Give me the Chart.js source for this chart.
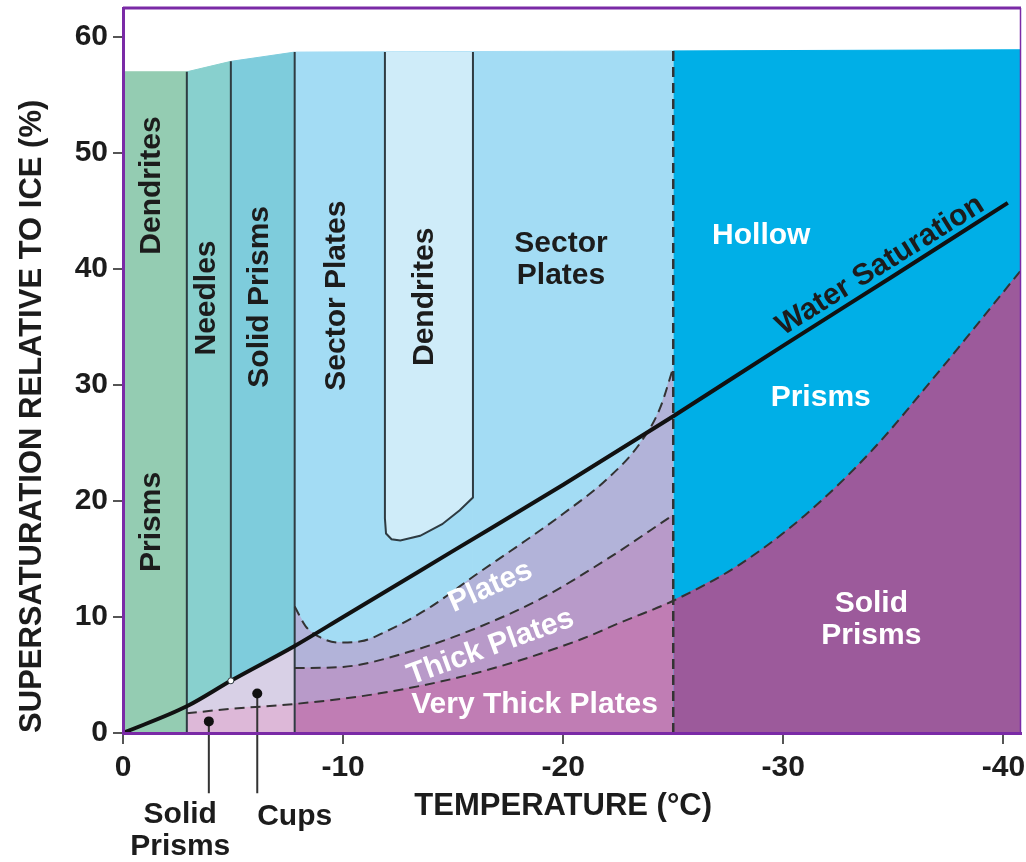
<!DOCTYPE html>
<html>
<head>
<meta charset="utf-8">
<title>Ice crystal habit diagram</title>
<script src="https://cdn.jsdelivr.net/npm/chart.js@4.4.1/dist/chart.umd.min.js"></script>
<style>
  html, body { margin: 0; padding: 0; background: #fff; }
  #wrap { width: 1026px; height: 862px; position: relative; }
</style>
</head>
<body>
<div id="wrap"><canvas id="habit"></canvas></div>
<script>
// ticks
const tempTicks = [0, -10, -20, -30, -40];
const ssTicks = [0, 10, 20, 30, 40, 50, 60];

// upper edge of the coloured diagram
const topT = [0, -2.9, -4.9, -7.8, -25, -40.8];
const topS = [57.0, 57.0, 57.9, 58.7, 58.8, 58.9];

// water saturation
const waterT = [0, -2.9, -4.9, -7.8, -10, -15, -20, -25, -30, -35, -40.2];
const waterS = [0, 2.3, 4.5, 7.5, 10.0, 15.7, 21.4, 27.3, 33.4, 39.4, 45.7];

// sector plates / plates boundary
const sectorT = [-7.8, -8.3, -8.9, -9.8, -10.8, -12, -14, -16, -18, -20, -22, -23.5, -24.4, -25];
const sectorS = [10.9, 9.2, 8.3, 7.8, 7.9, 8.8, 10.9, 13.6, 16.2, 18.9, 21.9, 25.0, 28.0, 31.5];

// plates / thick plates boundary
const thickT = [-7.8, -10, -13, -16, -19, -22, -25];
const thickS = [5.6, 5.7, 7.0, 9.0, 11.6, 15.0, 18.8];

// thick / very thick plates, then prisms / solid prisms
const vthickT = [-2.9, -5, -7.8, -11.6, -16.1, -20.7, -22.7, -25, -28, -31, -34, -37, -40.8];
const vthickS = [1.7, 2.1, 2.5, 3.4, 5.2, 8.0, 9.6, 11.4, 14.5, 18.8, 24.3, 31.0, 39.9];

// inner dendrite pocket outline
const dendT = [-11.9, -11.9, -11.95, -12.2, -12.6, -13.5, -14.5, -15.3, -15.9, -15.9];
const dendS = [58.7, 18.5, 17.2, 16.7, 16.6, 17.0, 18.0, 19.2, 20.3, 58.7];

// solid column walls
const wallT = [-2.9, -4.9, -7.8];
const wallLow = [0, 4.5, 0];
const wallHigh = [57.0, 57.9, 58.7];
const dashWallT = -25;

// pointers under the axis
const pointerT = [-3.9, -6.1];
const pointerS = [1.0, 3.4];
const pointerFoot = -5.2;

const ink = '#1c1c1c';
const white = '#ffffff';
const purple = '#7a2aa6';
const lineCol = '#2e3b42';
const dashCol = '#333333';
const fontFamily = "'Liberation Sans', Arial, Helvetica, sans-serif";

const textLabels = [
  { lines: ['Dendrites'], t: -1.3, s: 47.2, angle: -90, color: ink },
  { lines: ['Prisms'], t: -1.3, s: 18.2, angle: -90, color: ink },
  { lines: ['Needles'], t: -3.8, s: 37.5, angle: -90, color: ink },
  { lines: ['Solid Prisms'], t: -6.2, s: 37.6, angle: -90, color: ink },
  { lines: ['Sector Plates'], t: -9.7, s: 37.7, angle: -90, color: ink },
  { lines: ['Dendrites'], t: -13.7, s: 37.6, angle: -90, color: ink },
  { lines: ['Sector', 'Plates'], t: -19.9, s: 40.8, angle: 0, color: ink },
  { lines: ['Hollow'], t: -29.0, s: 42.9, angle: 0, color: white },
  { lines: ['Prisms'], t: -31.7, s: 28.9, angle: 0, color: white },
  { lines: ['Solid', 'Prisms'], t: -34.0, s: 9.8, angle: 0, color: white },
  { lines: ['Plates'], t: -16.7, s: 12.6, angle: -24, color: white },
  { lines: ['Thick Plates'], t: -16.7, s: 7.4, angle: -20, color: white },
  { lines: ['Very Thick Plates'], t: -18.7, s: 2.4, angle: 0, color: white },
  { lines: ['Water Saturation'], t: -34.4, s: 40.3, angle: -32, color: ink },
  { lines: ['Solid', 'Prisms'], t: -2.6, s: -8.45, angle: 0, color: ink },
  { lines: ['Cups'], t: -7.8, s: -7.2, angle: 0, color: ink }
];

// points of a boundary between two temperatures (from >= t >= to)
function seg(T, S, from, to) {
  const out = [];
  T.forEach((t, i) => { if (t <= from && t >= to) out.push({ x: t, y: S[i] }); });
  return out;
}
function pairs(T, S) {
  return T.map((t, i) => ({ x: t, y: S[i] }));
}

const layers = [];
function area(points, color) {
  layers.push({
    data: points, fill: 'start', backgroundColor: color, borderColor: color,
    borderWidth: 1, pointRadius: 0, cubicInterpolationMode: 'monotone'
  });
}
function stroke(points, color, width, dash, smooth) {
  layers.push({
    data: points, fill: false, borderColor: color, borderWidth: width,
    borderDash: dash || [], pointRadius: 0,
    cubicInterpolationMode: smooth ? 'monotone' : 'default', tension: 0
  });
}

// fills, back to front
area(seg(topT, topS, 0, -2.9), '#94ccb2');
area(seg(topT, topS, -2.9, -4.9), '#88d0ce');
area(seg(topT, topS, -4.9, -7.8), '#7eccdc');
area(seg(topT, topS, -7.8, -25), '#a3dcf4');
area(seg(topT, topS, -25, -40.8), '#00afe7');
area([pairs(dendT, dendS)[0], pairs(dendT, dendS)[dendT.length - 1]], '#cfecf9');
area(pairs(dendT, dendS).slice(1, -1), '#a3dcf4');
area(seg(waterT, waterS, -2.9, -7.8), '#d8d0e6');
area(pairs(sectorT, sectorS), '#b2b3d9');
area(pairs(thickT, thickS), '#b89ac9');
area(seg(vthickT, vthickS, -2.9, -7.8), '#ddb8d8');
area(seg(vthickT, vthickS, -7.8, -25), '#c07db4');
area(seg(vthickT, vthickS, -25, -40.8), '#9c5a9b');

// outlines
wallT.forEach((t, i) => stroke([{ x: t, y: wallHigh[i] }, { x: t, y: wallLow[i] }], lineCol, 2));
stroke(pairs(dendT, dendS), lineCol, 2);
stroke(pairs(sectorT, sectorS), dashCol, 2, [10, 6], true);
stroke(pairs(thickT, thickS), dashCol, 2, [10, 6], true);
stroke(pairs(vthickT, vthickS), dashCol, 2, [10, 6], true);
stroke([{ x: dashWallT, y: topS[4] }, { x: dashWallT, y: 0 }], dashCol, 2.5, [10, 6]);
stroke(pairs(waterT, waterS), '#111111', 4, null, true);

// pointers
pointerT.forEach((t, i) => {
  layers.push({
    data: [{ x: t, y: pointerS[i] }, { x: t, y: pointerFoot }], fill: false,
    borderColor: '#333', borderWidth: 2, clip: false,
    pointRadius: ctx => ctx.dataIndex === 0 ? 5 : 0,
    pointBackgroundColor: '#111', pointBorderWidth: 0
  });
});
layers.push({
  data: [{ x: wallT[1], y: wallLow[1] }], showLine: false,
  pointRadius: 3, pointBackgroundColor: '#fff', pointBorderColor: lineCol, pointBorderWidth: 1
});

// first dataset is drawn on top in Chart.js, so give back layers a higher order
layers.forEach((d, i) => { d.order = layers.length - i; });

const frameAndText = {
  id: 'frameAndText',
  afterDatasetsDraw(chart) {
    const { ctx, chartArea: a, scales: { x, y } } = chart;
    ctx.save();
    ctx.strokeStyle = purple;
    ctx.lineWidth = 3;
    ctx.beginPath();
    ctx.moveTo(a.left, a.top);
    ctx.lineTo(a.right, a.top);
    ctx.stroke();
    ctx.lineWidth = 1.5;
    ctx.beginPath();
    ctx.moveTo(a.right - 0.5, a.top);
    ctx.lineTo(a.right - 0.5, a.bottom);
    ctx.stroke();

    ctx.textAlign = 'center';
    ctx.textBaseline = 'middle';
    textLabels.forEach(lab => {
      ctx.save();
      ctx.translate(x.getPixelForValue(lab.t), y.getPixelForValue(lab.s));
      ctx.rotate(lab.angle * Math.PI / 180);
      ctx.font = 'bold 30px ' + fontFamily;
      ctx.fillStyle = lab.color;
      lab.lines.forEach((line, i) => {
        ctx.fillText(line, 0, (i - (lab.lines.length - 1) / 2) * 32);
      });
      ctx.restore();
    });

    // axis titles
    ctx.font = 'bold 31px ' + fontFamily;
    ctx.fillStyle = ink;
    ctx.fillText('TEMPERATURE (\u00B0C)', x.getPixelForValue(-20), a.bottom + 73);
    ctx.save();
    ctx.translate(32, y.getPixelForValue(27.3));
    ctx.rotate(-Math.PI / 2);
    ctx.fillText('SUPERSATURATION RELATIVE TO ICE (%)', 0, 0);
    ctx.restore();
    ctx.restore();
  }
};

Chart.defaults.font.family = fontFamily;

new Chart(document.getElementById('habit'), {
  type: 'line',
  data: { datasets: layers },
  options: {
    responsive: true,
    maintainAspectRatio: false,
    devicePixelRatio: 1,
    animation: false,
    layout: { padding: { top: 8, right: 1, left: 0, bottom: 0 } },
    plugins: { legend: { display: false }, tooltip: { enabled: false } },
    scales: {
      x: {
        type: 'linear', reverse: true, min: -40.8, max: 0, bounds: 'data',
        afterBuildTicks: axis => { axis.ticks = tempTicks.map(v => ({ value: v })); },
        afterFit: axis => { axis.height = 129; axis.paddingLeft = 0; axis.paddingRight = 0; },
        ticks: { color: ink, font: { size: 30, weight: 'bold' }, padding: 6, maxRotation: 0, autoSkip: false, callback: v => String(v) },
        grid: { drawOnChartArea: false, drawTicks: true, tickLength: 11, color: '#555', lineWidth: 2 },
        border: { display: true, color: purple, width: 3, z: 1 }
      },
      y: {
        type: 'linear', min: 0, max: 62.5, bounds: 'data',
        afterBuildTicks: axis => { axis.ticks = ssTicks.map(v => ({ value: v })); },
        afterFit: axis => { axis.width = 123; axis.paddingTop = 0; axis.paddingBottom = 0; },
        ticks: { color: ink, font: { size: 30, weight: 'bold' }, padding: 5, autoSkip: false, callback: v => String(v) },
        grid: { drawOnChartArea: false, drawTicks: true, tickLength: 10, color: '#555', lineWidth: 2 },
        border: { display: true, color: purple, width: 3, z: 1 }
      }
    }
  },
  plugins: [frameAndText]
});
</script>
</body>
</html>
